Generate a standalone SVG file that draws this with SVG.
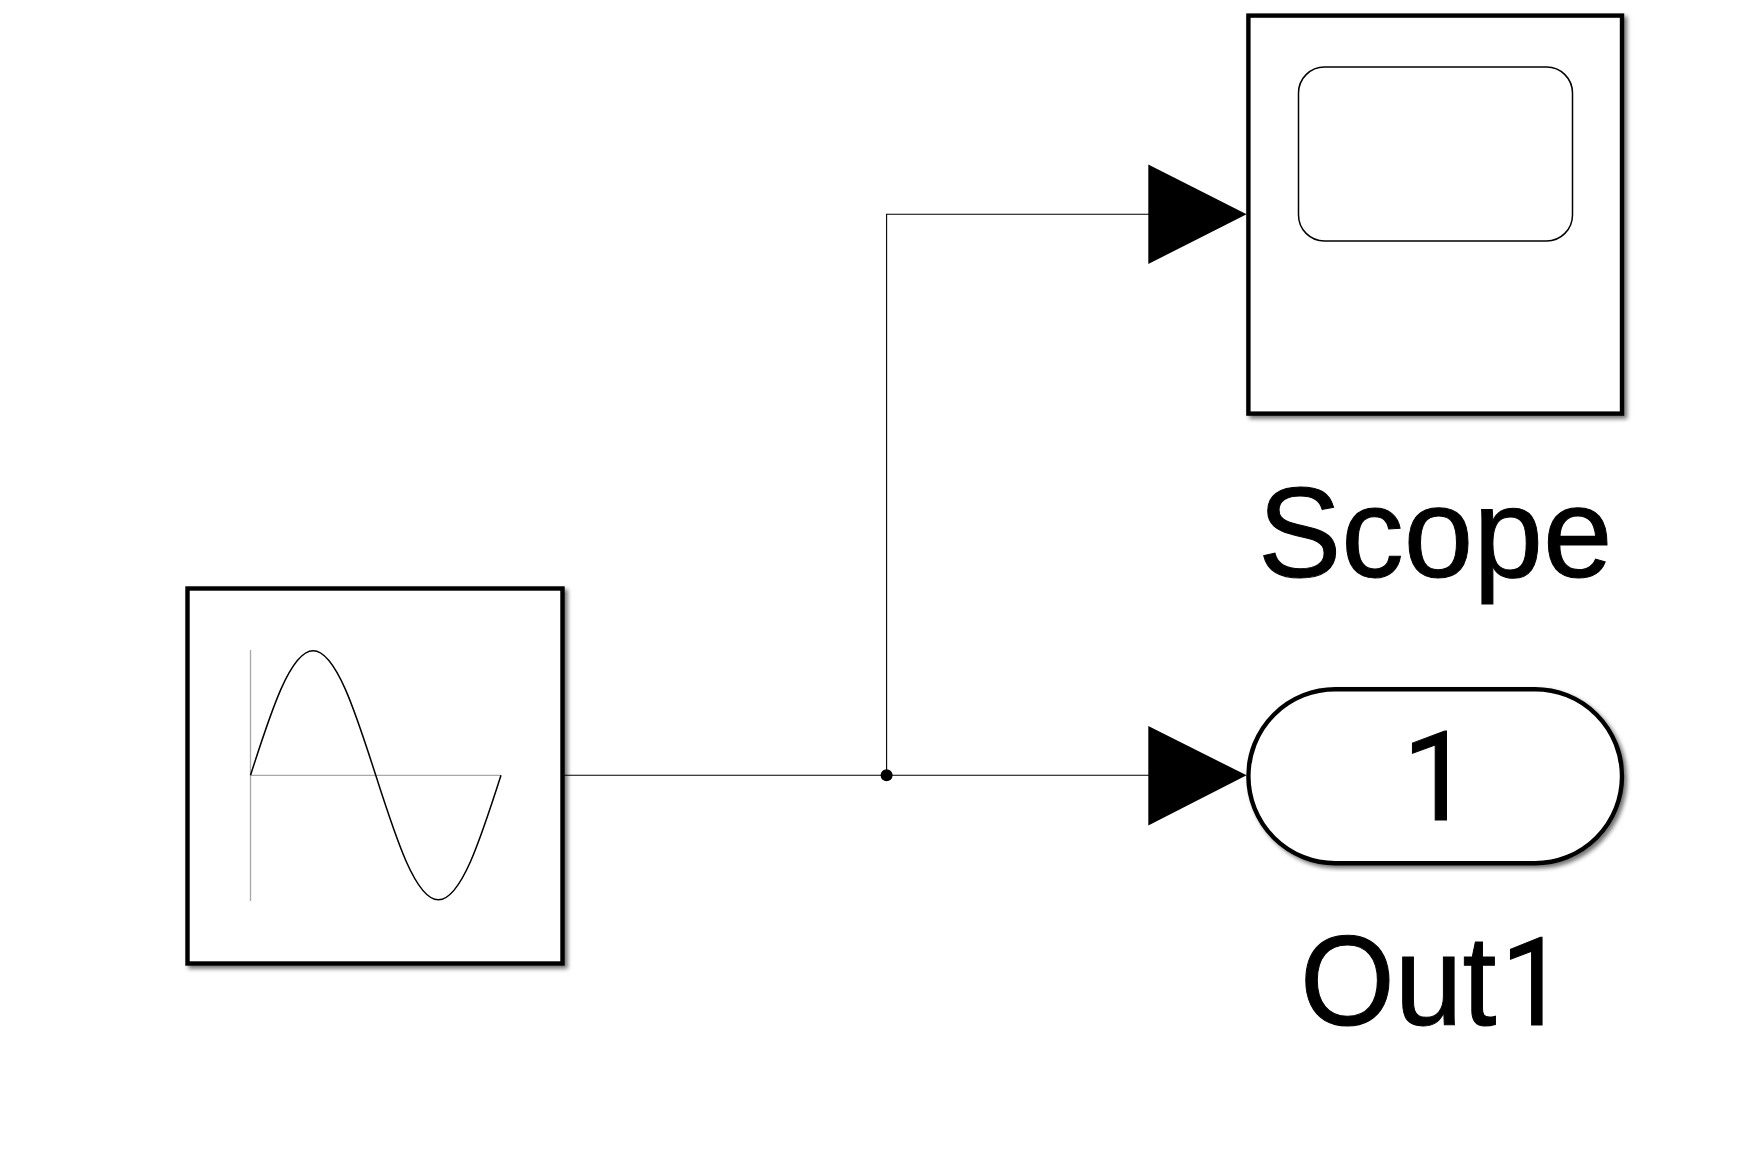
<svg xmlns="http://www.w3.org/2000/svg" width="1753" height="1176" viewBox="0 0 1753 1176">
<style>
.block{fill:#fff;stroke:#000;stroke-width:4.4;filter:url(#sh)}
.thin{fill:none;stroke:#000;stroke-width:1.5}
.axis{fill:none;stroke:#a8a8a8;stroke-width:1.3}
.wire{fill:none;stroke:#000;stroke-width:1.1}
.head{fill:#000}
.label{font-family:"Liberation Sans",Arial,sans-serif;font-size:125px;fill:#000;stroke:#000;stroke-width:1}
.digit{font-family:Roboto,"Liberation Sans",sans-serif}
</style>
<defs>
<filter id="sh" x="-5%" y="-5%" width="110%" height="110%">
<feDropShadow dx="3" dy="3" stdDeviation="2" flood-color="#000" flood-opacity="0.55"/>
</filter>
</defs>
<rect width="1753" height="1176" fill="#fff"/>
<g id="connectors">
<path class="wire" d="M564 775.3H1150"/>
<path class="wire" d="M886.6 775.3V214.3H1150"/>
<circle class="head" cx="886.6" cy="775.3" r="6"/>
<polygon class="head" points="1148.3,164.6 1246.6,214.3 1148.3,264"/>
<polygon class="head" points="1148.3,726 1246.6,775.3 1148.3,825.5"/>
</g>
<g id="sine">
<rect class="block" x="187.5" y="588.5" width="375" height="375"/>
<path class="axis" d="M250.5 650V901M250.5 775.3H501"/>
<path class="thin" d="M250.5 775.3C270.92 711.52 290.46 650.8 313.125 650.8C335.79 650.8 355.33 711.52 375.75 775.3C396.17 839.08 415.71 899.8 438.375 899.8C461.04 899.8 480.58 839.08 501 775.3"/>
</g>
<g id="scope">
<rect class="block" x="1248.4" y="15.6" width="373.6" height="398"/>
<rect class="thin" x="1298.5" y="67" width="274" height="174" rx="26" ry="26"/>
<text class="label" transform="translate(1258 577) scale(1 1.02)">Scope</text>
</g>
<g id="out1">
<rect class="block" x="1248.4" y="689.2" width="373.6" height="174" rx="87" ry="87"/>
<text class="label digit" x="1402" y="820">1</text>
<text class="label" transform="translate(1300 1025) scale(.975 1.03)">Out<tspan class="digit" x="206" font-size="119">1</tspan></text>
</g>
</svg>
